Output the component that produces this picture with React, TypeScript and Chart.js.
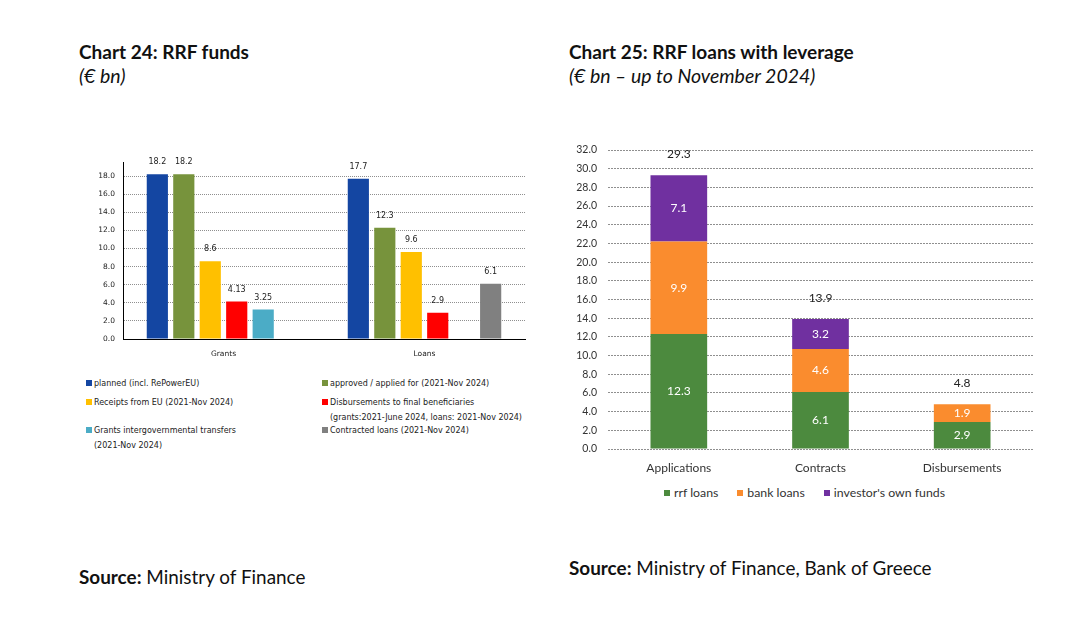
import React, { useEffect, useRef } from "react";
import { Chart, registerables } from "chart.js";

Chart.register(...registerables);

// ---------- Chart 24 data ----------
const fundCategories = ["Grants", "Loans"];
const fundSeriesNames = [
  "planned (incl. RePowerEU)",
  "approved / applied for (2021-Nov 2024)",
  "Receipts from EU (2021-Nov 2024)",
  "Disbursements to final beneficiaries",
  "Grants intergovernmental transfers",
  "Contracted loans (2021-Nov 2024)",
];
const plannedValues = [18.2, 17.7];
const approvedValues = [18.2, 12.3];
const receiptsValues = [8.6, 9.6];
const disbursedValues = [4.13, 2.9];
const transfersValues = [3.25, null];
const contractedValues = [null, 6.1];
const fundColors = ["#1446A2", "#77933C", "#FFC000", "#FF0000", "#4BACC6", "#808080"];
const fundTickLabels = ["0.0", "2.0", "4.0", "6.0", "8.0", "10.0", "12.0", "14.0", "16.0", "18.0"];

// ---------- Chart 25 data ----------
const leverageCategories = ["Applications", "Contracts", "Disbursements"];
const rrfLoans = [12.3, 6.1, 2.9];
const bankLoans = [9.9, 4.6, 1.9];
const ownFunds = [7.1, 3.2, null];
const leverageSeriesNames = ["rrf loans", "bank loans", "investor's own funds"];
const leverageColors = ["#4C8A3E", "#FA8C2E", "#7030A0"];

const SMALL = '"DejaVu Sans", Verdana, sans-serif';
const CAL = 'Lato, "Open Sans", sans-serif';

function FundsChart() {
  const ref = useRef<HTMLCanvasElement | null>(null);
  useEffect(() => {
    const series = [plannedValues, approvedValues, receiptsValues, disbursedValues, transfersValues, contractedValues];
    const labelPlugin = {
      id: "fundLabels",
      afterDatasetsDraw(chart: any) {
        const ctx = chart.ctx;
        ctx.save();
        ctx.font = `8px ${SMALL}`;
        ctx.fillStyle = "#222";
        ctx.textAlign = "center";
        ctx.textBaseline = "middle";
        chart.data.datasets.forEach((ds: any, i: number) => {
          const meta = chart.getDatasetMeta(i);
          meta.data.forEach((bar: any, j: number) => {
            const v = ds.data[j];
            if (v == null) return;
            ctx.fillText(String(v), bar.x, bar.y - 12);
          });
        });
        ctx.restore();
      },
    };
    const chart = new Chart(ref.current as HTMLCanvasElement, {
      type: "bar",
      data: {
        labels: fundCategories,
        datasets: series.map((d, i) => ({
          label: fundSeriesNames[i],
          data: d as any,
          backgroundColor: fundColors[i],
          categoryPercentage: 0.79,
          barPercentage: 0.8,
        })),
      },
      options: {
        animation: false,
        responsive: false,
        maintainAspectRatio: false,
        layout: { padding: { top: 11, right: 10, left: 0, bottom: 0 } },
        plugins: { legend: { display: false }, tooltip: { enabled: false } },
        scales: {
          x: {
            grid: { display: false },
            border: { display: true, color: "#000", width: 1 },
            ticks: { font: { family: SMALL, size: 7.5 }, color: "#222", padding: 3 },
            afterFit: (s: any) => { s.height = 26; },
          },
          y: {
            min: 0,
            max: 19.5,
            afterBuildTicks: (s: any) => {
              s.ticks = fundTickLabels.map((t) => ({ value: parseFloat(t) }));
            },
            ticks: {
              font: { family: SMALL, size: 7.5 },
              color: "#222",
              padding: 8,
              callback: (v: any, i: number) => fundTickLabels[i],
            },
            grid: { color: "#8f8f8f", drawTicks: false, lineWidth: 1 },
            border: { display: true, color: "#000", width: 1, dash: [1, 1] },
            afterFit: (s: any) => { s.width = 63; },
          },
        },
      },
      plugins: [labelPlugin],
    });
    return () => chart.destroy();
  }, []);
  return <canvas ref={ref} width={475} height={215} style={{ position: "absolute", left: 60, top: 150, width: 475, height: 215 }} />;
}

function LeverageChart() {
  const ref = useRef<HTMLCanvasElement | null>(null);
  useEffect(() => {
    const series = [rrfLoans, bankLoans, ownFunds];
    const labelPlugin = {
      id: "levLabels",
      afterDatasetsDraw(chart: any) {
        const ctx = chart.ctx;
        ctx.save();
        ctx.textAlign = "center";
        ctx.textBaseline = "middle";
        ctx.font = `12px ${CAL}`;
        chart.data.datasets.forEach((ds: any, i: number) => {
          const meta = chart.getDatasetMeta(i);
          meta.data.forEach((bar: any, j: number) => {
            const v = ds.data[j];
            if (v == null || v === 0) return;
            ctx.fillStyle = "#fff";
            ctx.fillText(Number(v).toFixed(1), bar.x, (bar.y + bar.base) / 2);
          });
        });
        const yScale = chart.scales.y;
        const lastMeta = chart.getDatasetMeta(0);
        chart.data.labels.forEach((_: any, j: number) => {
          let total = 0;
          chart.data.datasets.forEach((ds: any) => { total += ds.data[j] || 0; });
          const x = lastMeta.data[j].x;
          ctx.fillStyle = "#222";
          ctx.fillText(total.toFixed(1), x, yScale.getPixelForValue(total) - 21);
        });
        ctx.restore();
      },
    };
    const chart = new Chart(ref.current as HTMLCanvasElement, {
      type: "bar",
      data: {
        labels: leverageCategories,
        datasets: series.map((d, i) => ({
          label: leverageSeriesNames[i],
          data: d as any,
          backgroundColor: leverageColors[i],
          categoryPercentage: 0.8,
          barPercentage: 0.5,
        })),
      },
      options: {
        animation: false,
        responsive: false,
        maintainAspectRatio: false,
        layout: { padding: { top: 20, right: 17, left: 0, bottom: 0 } },
        plugins: { legend: { display: false }, tooltip: { enabled: false } },
        scales: {
          x: {
            stacked: true,
            grid: { display: false },
            border: { display: false },
            ticks: { font: { family: CAL, size: 12 }, color: "#333", padding: 4 },
            afterFit: (s: any) => { s.height = 30; },
          },
          y: {
            stacked: true,
            min: 0,
            max: 32,
            ticks: {
              stepSize: 2,
              font: { family: CAL, size: 10.5 },
              color: "#333",
              padding: 11,
              callback: (v: any) => Number(v).toFixed(1),
            },
            grid: { color: "#8f8f8f", drawTicks: false, lineWidth: 1 },
            border: { display: false, dash: [2, 1] },
            afterFit: (s: any) => { s.width = 48; },
          },
        },
      },
      plugins: [labelPlugin],
    });
    return () => chart.destroy();
  }, []);
  return <canvas ref={ref} width={490} height={349} style={{ position: "absolute", left: 560, top: 130, width: 490, height: 349 }} />;
}

const sq = (c: string, size: number) => (
  <span style={{ display: "inline-block", width: size, height: size, background: c, marginRight: 2 }} />
);

export default function App() {
  const legSmall: React.CSSProperties = { position: "absolute", fontFamily: SMALL, fontSize: 8, color: "#222", lineHeight: "15px", whiteSpace: "nowrap" };
  const title: React.CSSProperties = { position: "absolute", fontFamily: CAL, fontWeight: 700, fontSize: 19, color: "#111", whiteSpace: "nowrap", lineHeight: "24px" };
  const sub: React.CSSProperties = { position: "absolute", fontFamily: CAL, fontStyle: "italic", fontSize: 19.5, color: "#111", whiteSpace: "nowrap", lineHeight: "24px" };
  const src: React.CSSProperties = { position: "absolute", fontFamily: CAL, fontSize: 18.9, color: "#111", whiteSpace: "nowrap", lineHeight: "24px" };
  return (
    <div style={{ position: "absolute", left: 0, top: 0, width: 1084, height: 619, background: "#fff", overflow: "hidden" }}>
      <div style={{ ...title, left: 79, top: 40 }}>Chart 24: RRF funds</div>
      <div style={{ ...sub, left: 79, top: 64 }}>(€ bn)</div>
      <div style={{ ...title, left: 569, top: 40 }}>Chart 25: RRF loans with leverage</div>
      <div style={{ ...sub, left: 569, top: 64 }}>(€ bn – up to November 2024)</div>

      <FundsChart />
      <LeverageChart />

      {/* Chart 24 legend */}
      <div style={{ ...legSmall, left: 86, top: 376 }}>{sq(fundColors[0], 6)}{fundSeriesNames[0]}</div>
      <div style={{ ...legSmall, left: 322, top: 376 }}>{sq(fundColors[1], 6)}{fundSeriesNames[1]}</div>
      <div style={{ ...legSmall, left: 86, top: 395 }}>{sq(fundColors[2], 6)}{fundSeriesNames[2]}</div>
      <div style={{ ...legSmall, left: 322, top: 395 }}>
        {sq(fundColors[3], 6)}{fundSeriesNames[3]}
        <br />
        <span style={{ paddingLeft: 8 }}>(grants:2021-June 2024, loans: 2021-Nov 2024)</span>
      </div>
      <div style={{ ...legSmall, left: 86, top: 423 }}>
        {sq(fundColors[4], 6)}{fundSeriesNames[4]}
        <br />
        <span style={{ paddingLeft: 8 }}>(2021-Nov 2024)</span>
      </div>
      <div style={{ ...legSmall, left: 322, top: 423 }}>{sq(fundColors[5], 6)}{fundSeriesNames[5]}</div>

      {/* Chart 25 legend */}
      <div style={{ position: "absolute", left: 664, top: 485, fontFamily: CAL, fontSize: 12.3, color: "#333", whiteSpace: "nowrap", lineHeight: "16px", display: "flex", gap: 19 }}>
        {leverageSeriesNames.map((n, i) => (
          <span key={n} style={{ display: "flex", alignItems: "center" }}>
            <span style={{ display: "inline-block", width: 6, height: 6, background: leverageColors[i], marginRight: 4 }} />
            {n}
          </span>
        ))}
      </div>

      <div style={{ ...src, left: 79, top: 565 }}><b>Source:</b> Ministry of Finance</div>
      <div style={{ ...src, left: 569, top: 556 }}><b>Source:</b> Ministry of Finance, Bank of Greece</div>
    </div>
  );
}
